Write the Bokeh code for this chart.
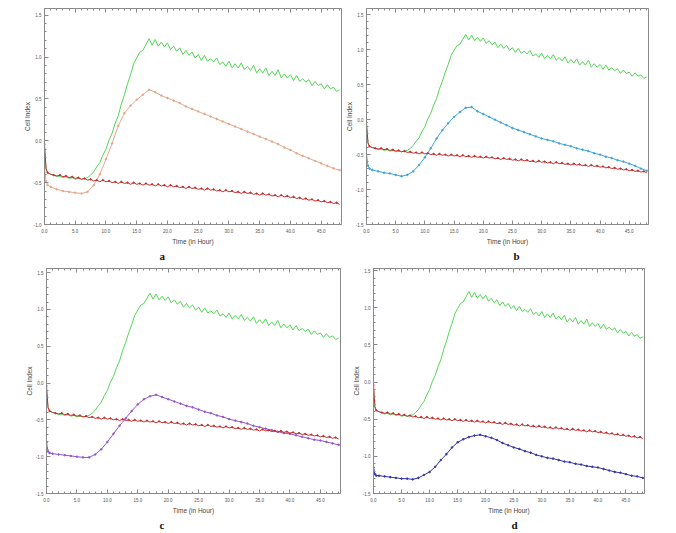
from bokeh.plotting import figure
from bokeh.layouts import column, row
from bokeh.models import (LinearAxis, SingleIntervalTicker, PrintfTickFormatter,
                          Range1d, Title, CustomLabelingPolicy)
from bokeh.embed import file_html
from bokeh.resources import INLINE

# ---- data ----
t_fine = [0, 0.25] + [0.5 * i for i in range(1, 97)]
green = [-0.10, -0.34, -0.38, -0.40, -0.41, -0.43, -0.42, -0.44, -0.43, -0.45,
         -0.44, -0.46, -0.45, -0.46, -0.45, -0.44, -0.41, -0.37, -0.31, -0.26,
         -0.17, -0.10, 0.01, 0.09, 0.21, 0.30, 0.44, 0.55, 0.68, 0.79,
         0.92, 0.99, 1.06, 1.08, 1.15, 1.22, 1.14, 1.21, 1.13, 1.18,
         1.12, 1.17, 1.09, 1.13, 1.07, 1.11, 1.03, 1.08, 1.02, 1.06,
         0.99, 1.03, 0.96, 1.02, 0.95, 0.98, 0.94, 0.99, 0.91, 0.94,
         0.89, 0.95, 0.87, 0.92, 0.87, 0.93, 0.85, 0.89, 0.84, 0.90,
         0.81, 0.86, 0.81, 0.87, 0.78, 0.83, 0.78, 0.85, 0.75, 0.80,
         0.75, 0.79, 0.72, 0.78, 0.71, 0.74, 0.70, 0.73, 0.66, 0.71,
         0.66, 0.68, 0.62, 0.67, 0.62, 0.64, 0.59, 0.61]
red = [-0.04, -0.33, -0.38, -0.40, -0.41, -0.42, -0.41, -0.43, -0.42, -0.44,
       -0.43, -0.45, -0.44, -0.46, -0.45, -0.47, -0.46, -0.48, -0.47, -0.49,
       -0.47, -0.49, -0.48, -0.50, -0.49, -0.51, -0.49, -0.51, -0.50, -0.52,
       -0.50, -0.52, -0.51, -0.53, -0.51, -0.53, -0.52, -0.54, -0.52, -0.54,
       -0.53, -0.55, -0.53, -0.55, -0.54, -0.56, -0.55, -0.57, -0.55, -0.57,
       -0.56, -0.58, -0.57, -0.59, -0.57, -0.59, -0.58, -0.60, -0.59, -0.61,
       -0.59, -0.61, -0.60, -0.62, -0.61, -0.63, -0.61, -0.63, -0.62, -0.64,
       -0.63, -0.65, -0.63, -0.65, -0.64, -0.66, -0.65, -0.67, -0.65, -0.67,
       -0.66, -0.68, -0.67, -0.69, -0.68, -0.70, -0.69, -0.71, -0.70, -0.72,
       -0.71, -0.73, -0.72, -0.74, -0.73, -0.75, -0.74, -0.76]

t_coarse = [0, 0.25, 0.5] + list(range(1, 49))
orange_a = [-0.32, -0.48, -0.53, -0.55, -0.58, -0.60, -0.61, -0.62, -0.63, -0.61,
            -0.53, -0.40, -0.22, -0.03, 0.18, 0.33, 0.42, 0.49, 0.55, 0.61,
            0.58, 0.54, 0.51, 0.48, 0.45, 0.41, 0.38, 0.35, 0.32, 0.29,
            0.26, 0.23, 0.20, 0.17, 0.14, 0.11, 0.08, 0.05, 0.02, -0.01,
            -0.04, -0.08, -0.11, -0.15, -0.18, -0.21, -0.24, -0.27, -0.30, -0.33,
            -0.35]
blue_b = [-0.50, -0.66, -0.70, -0.72, -0.74, -0.76, -0.77, -0.79, -0.81, -0.79,
          -0.74, -0.65, -0.54, -0.41, -0.27, -0.15, -0.05, 0.04, 0.11, 0.17,
          0.18, 0.12, 0.08, 0.04, 0.00, -0.04, -0.08, -0.12, -0.15, -0.18,
          -0.21, -0.24, -0.27, -0.29, -0.31, -0.34, -0.36, -0.38, -0.41, -0.43,
          -0.45, -0.48, -0.50, -0.53, -0.55, -0.58, -0.60, -0.63, -0.66, -0.70,
          -0.73]
purple_c = [-0.81, -0.93, -0.95, -0.96, -0.97, -0.98, -0.99, -1.00, -1.01, -1.01,
            -0.97, -0.90, -0.80, -0.69, -0.58, -0.48, -0.38, -0.29, -0.22, -0.18,
            -0.16, -0.19, -0.22, -0.25, -0.28, -0.31, -0.33, -0.36, -0.39, -0.41,
            -0.44, -0.46, -0.49, -0.51, -0.53, -0.55, -0.58, -0.60, -0.62, -0.64,
            -0.66, -0.68, -0.69, -0.71, -0.73, -0.75, -0.77, -0.78, -0.80, -0.82,
            -0.84]
navy_d = [-1.15, -1.24, -1.26, -1.26, -1.27, -1.28, -1.29, -1.30, -1.30, -1.31,
          -1.29, -1.25, -1.21, -1.14, -1.05, -0.97, -0.88, -0.81, -0.77, -0.74,
          -0.72, -0.71, -0.73, -0.75, -0.78, -0.82, -0.85, -0.88, -0.90, -0.93,
          -0.95, -0.98, -1.00, -1.02, -1.03, -1.05, -1.07, -1.08, -1.10, -1.11,
          -1.13, -1.14, -1.15, -1.17, -1.19, -1.21, -1.22, -1.24, -1.26, -1.27,
          -1.29]

panel_labels = ["a", "b", "c", "d"]
x_label = "Time (in Hour)"
y_label = "Cell Index"

GREEN = "#55d655"
RED = "#c42f2f"
COLORS = ["#e3a98a", "#3fa6d6", "#9455cc", "#3434a8"]
TESTS = [orange_a, blue_b, purple_c, navy_d]

# layout: (width, height, left, right, top, bottom, ymin, ymax, label offset)
LAYOUT = [
    (342, 262, 44, 1, 8, 36, -1.0, 1.58, 115),
    (334, 262, 21, 28, 7, 38, -1.5, 1.59, 147),
    (342, 271, 46, 2, 1, 40, -1.5, 1.555, 113),
    (334, 271, 31, 32, 6, 39, -1.5, 1.53, 138),
]

AX = "#8a8a8a"
NO_LABELS_JS = """
try {
  if (typeof indices.clear === "function") { indices.clear(); return indices }
  const all = Array.from(indices)
  for (const i of all) { indices.unset(i) }
} catch (e) {}
return indices
"""


def style_axis(ax, dim, show_labels=True):
    ax.axis_line_color = AX
    ax.major_tick_line_color = AX
    ax.minor_tick_line_color = AX
    ax.major_tick_in = 4
    ax.major_tick_out = 0
    ax.minor_tick_in = 2
    ax.minor_tick_out = 0
    ax.formatter = PrintfTickFormatter(format="%.1f")
    ax.major_label_text_font = "Liberation Sans"
    ax.major_label_text_font_size = "4.5px"
    ax.major_label_text_color = "#555555"
    ax.axis_label_text_font = "Liberation Sans"
    ax.axis_label_text_font_size = "6.5px"
    ax.axis_label_text_font_style = "normal"
    ax.axis_label_text_color = "#444444"
    if dim == "x":
        ax.major_label_standoff = 4
        ax.axis_label_standoff = 2
    else:
        ax.major_label_standoff = 3
        ax.axis_label_standoff = 0
    if not show_labels:
        ax.major_label_policy = CustomLabelingPolicy(code=NO_LABELS_JS)
        ax.major_label_standoff = 0
        ax.major_label_text_font_size = "1px"


figs = []
for i in range(4):
    w, h, bl, br, bt, bb, y0, y1, off = LAYOUT[i]
    p = figure(width=w, height=h, output_backend="svg", toolbar_location=None,
               x_range=Range1d(0, 48.3), y_range=Range1d(y0, y1),
               min_border_left=bl, min_border_right=br,
               min_border_top=bt, min_border_bottom=bb,
               x_axis_label=x_label, y_axis_label=y_label)
    p.xgrid.visible = False
    p.ygrid.visible = False
    p.outline_line_color = AX
    p.xaxis.ticker = SingleIntervalTicker(interval=5, num_minor_ticks=5)
    p.yaxis.ticker = SingleIntervalTicker(interval=0.5, num_minor_ticks=5)
    style_axis(p.xaxis[0], "x")
    style_axis(p.yaxis[0], "y")
    top = LinearAxis(ticker=SingleIntervalTicker(interval=5, num_minor_ticks=5))
    style_axis(top, "x", show_labels=False)
    p.add_layout(top, "above")

    p.line(t_fine, green, line_color=GREEN, line_width=1)
    p.line(t_coarse, TESTS[i], line_color=COLORS[i], line_width=1)
    p.scatter(t_coarse, TESTS[i], size=1.6, color=COLORS[i])
    p.line(t_fine, red, line_color=RED, line_width=1)
    p.scatter(t_fine[::2], red[::2], size=1.4, color=RED)

    lab = Title(text=panel_labels[i], align="left", offset=off,
                text_font="Liberation Serif", text_font_style="bold",
                text_font_size="11px", text_color="#111111", standoff=0)
    p.add_layout(lab, "below")
    figs.append(p)

layout = column(row(figs[0], figs[1]), row(figs[2], figs[3]))
open("out.html", "w").write(file_html(layout, INLINE))
